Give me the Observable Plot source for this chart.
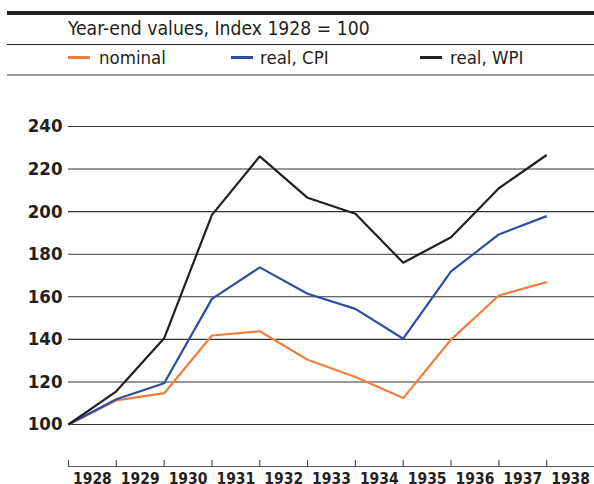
<!DOCTYPE html>
<html>
<head>
<meta charset="utf-8">
<script src="https://cdn.jsdelivr.net/npm/d3@7"></script>
<script src="https://cdn.jsdelivr.net/npm/@observablehq/plot@0.6"></script>
<style>
  html, body { margin: 0; padding: 0; background: #fff; }
  #wrap { position: relative; width: 594px; height: 484px; overflow: hidden;
          font-family: "DejaVu Sans Condensed", "DejaVu Sans", sans-serif; font-stretch: condensed; color: #231f20; }
  .rule { position: absolute; left: 7px; width: 587px; }
  .txt { position: absolute; font-size: 18.5px; line-height: 1; white-space: nowrap; }
  .sw { position: absolute; width: 22px; height: 3px; }
  #chart { position: absolute; left: 0; top: 80px; }
  #chart svg text { font-family: "DejaVu Sans Condensed", "DejaVu Sans", sans-serif; font-stretch: condensed; }
</style>
</head>
<body>
<div id="wrap">
  <div class="rule" style="top:11px;height:4px;background:#231f20"></div>
  <div class="txt" id="subtitle" style="left:68px;top:19px;font-size:19.2px"></div>
  <div class="rule" style="top:44px;height:1px;background:#231f20"></div>
  <div id="legend"></div>
  <div class="rule" style="top:74px;height:2px;background:#9a9a9a"></div>
  <div id="chart"></div>
</div>
<script>
const subtitle = "Year-end values, Index 1928 = 100";
const years = [1928, 1929, 1930, 1931, 1932, 1933, 1934, 1935, 1936, 1937, 1938];
const xLabels = ["1928", "1929", "1930", "1931", "1932", "1933", "1934", "1935", "1936", "1937", "1938"];
const nominal = [100, 111.3, 114.7, 141.8, 143.8, 130.4, 122.3, 112.4, 139.9, 160.6, 166.9];
const realCPI = [100, 111.9, 119.4, 159.0, 173.8, 161.4, 154.3, 140.3, 171.9, 189.3, 197.9];
const realWPI = [100, 115.6, 140.5, 198.5, 226.0, 206.5, 199.0, 176.0, 188.0, 211.0, 226.6];
const yTicks = [100, 120, 140, 160, 180, 200, 220, 240];
const seriesNames = ["nominal", "real, CPI", "real, WPI"];
const seriesColors = ["#f47d3b", "#2b4ea2", "#231f20"];

document.getElementById("subtitle").textContent = subtitle;

// legend
const legendPos = [[68, 99], [231, 260], [420, 450]];
const legend = document.getElementById("legend");
seriesNames.forEach((name, i) => {
  const sw = document.createElement("div");
  sw.className = "sw";
  sw.style.left = legendPos[i][0] + "px";
  sw.style.top = "56px";
  sw.style.background = seriesColors[i];
  legend.appendChild(sw);
  const t = document.createElement("div");
  t.className = "txt";
  t.style.left = legendPos[i][1] + "px";
  t.style.top = "49px";
  t.textContent = name;
  legend.appendChild(t);
});

const seriesValues = [nominal, realCPI, realWPI];
const data = [];
seriesNames.forEach((name, s) => {
  years.forEach((yr, i) => data.push({series: name, year: yr, value: seriesValues[s][i]}));
});
const labelData = years.map((yr, i) => ({x: yr + 0.5, text: xLabels[i]}));

const chart = Plot.plot({
  width: 594,
  height: 404,
  marginLeft: 68,
  marginRight: 0,
  marginTop: 46,
  marginBottom: 18,
  x: {domain: [1928, 1939], axis: null},
  y: {domain: [100, 240], range: [344, 46], axis: null},
  color: {domain: seriesNames, range: seriesColors},
  style: {background: "transparent", color: "#231f20"},
  marks: [
    Plot.ruleY(yTicks, {stroke: "#333", strokeWidth: 1.1}),
    Plot.axisY({ticks: yTicks, tickSize: 0, tickPadding: 6, label: null,
      fontSize: 18.5, fontWeight: "bold", fill: "#231f20"}),
    Plot.frame({anchor: "bottom", stroke: "#555", strokeWidth: 1.2}),
    Plot.axisX({ticks: years, tickSize: 6, tickFormat: () => "", label: null, dy: -6,
      stroke: "#555", strokeWidth: 1.2}),
    Plot.text(labelData, {x: "x", text: "text", frameAnchor: "bottom", lineAnchor: "top", dy: 6,
      fontSize: 15.5, fontWeight: "bold", fill: "#231f20"}),
    Plot.line(data, {x: "year", y: "value", z: "series", stroke: "series", strokeWidth: 2.2,
      strokeLinejoin: "miter", strokeLinecap: "butt"})
  ]
});
document.getElementById("chart").appendChild(chart);
</script>
</body>
</html>
